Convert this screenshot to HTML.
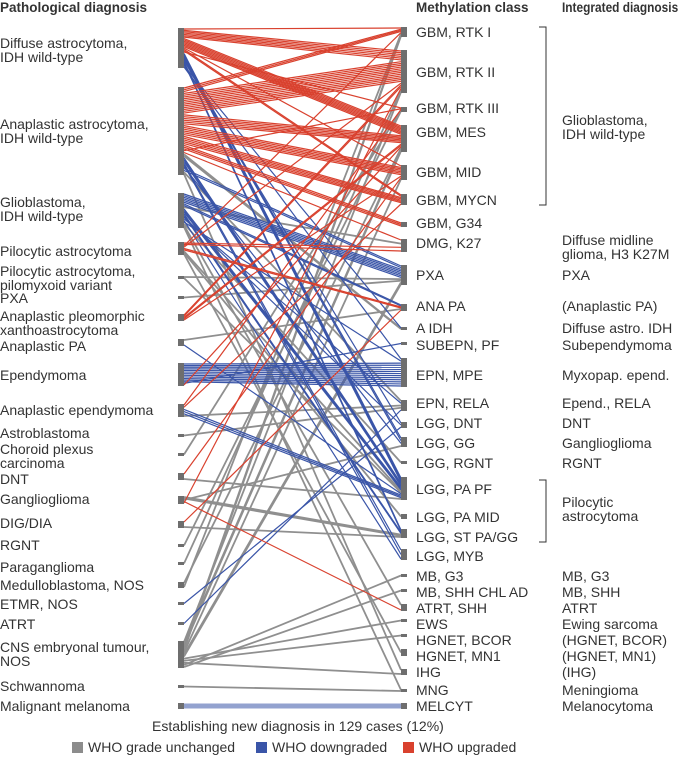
<!DOCTYPE html>
<html><head><meta charset="utf-8"><style>
body{margin:0;background:#fff;font-family:"Liberation Sans",Arial,sans-serif;color:#333;}
#wrap{position:relative;width:685px;height:758px;overflow:hidden;}
.t{position:absolute;font-size:14px;line-height:14px;white-space:nowrap;transform:translateY(-7px);}
.h{position:absolute;font-size:13.5px;font-weight:bold;top:0px;white-space:nowrap;}
.leg{position:absolute;top:739px;font-size:14px;white-space:nowrap;}
.sq{display:inline-block;width:11px;height:11px;vertical-align:-1px;margin-right:5px;}
</style></head><body>
<div id="wrap">
<div class="h" style="left:0">Pathological diagnosis</div>
<div class="h" style="left:416px">Methylation class</div>
<div class="h" style="left:562px;transform:scaleX(0.88);transform-origin:0 0">Integrated diagnosis</div>
<svg id="svg" width="685" height="758" style="position:absolute;left:0;top:0"></svg>
<div id="labels"></div>
<div style="position:absolute;left:152px;top:718px;font-size:14px;white-space:nowrap">Establishing new diagnosis in 129 cases (12%)</div>
<div class="leg" style="left:72px"><span class="sq" style="background:#8c8c8c"></span>WHO grade unchanged</div>
<div class="leg" style="left:256px"><span class="sq" style="background:#3a55a8"></span>WHO downgraded</div>
<div class="leg" style="left:403px"><span class="sq" style="background:#d9412e"></span>WHO upgraded</div>
</div>
<script>
const leftNames=[["Diffuse astrocytoma,","IDH wild-type"],["Anaplastic astrocytoma,","IDH wild-type"],["Glioblastoma,","IDH wild-type"],["Pilocytic astrocytoma"],["Pilocytic astrocytoma,","pilomyxoid variant"],["PXA"],["Anaplastic pleomorphic","xanthoastrocytoma"],["Anaplastic PA"],["Ependymoma"],["Anaplastic ependymoma"],["Astroblastoma"],["Choroid plexus","carcinoma"],["DNT"],["Ganglioglioma"],["DIG/DIA"],["RGNT"],["Paraganglioma"],["Medulloblastoma, NOS"],["ETMR, NOS"],["ATRT"],["CNS embryonal tumour,","NOS"],["Schwannoma"],["Malignant melanoma"]];
const leftLabelY=[50,131,209,251,278,298,323,346,375,410,433,456,479,499,523,545,567,585,604,624,654,686,706];
const leftTop=[28,87,193,242,276,296,314,339,363,404,434,453,473,496,521,544,562,582,602,622,641,685,703];
const leftBot=[68,175,228,255,279,299,321,346,386,417,437,456,480,504,528,547,565,588,605,625,668,688,709];
const rightNames=["GBM, RTK I","GBM, RTK II","GBM, RTK III","GBM, MES","GBM, MID","GBM, MYCN","GBM, G34","DMG, K27","PXA","ANA PA","A IDH","SUBEPN, PF","EPN, MPE","EPN, RELA","LGG, DNT","LGG, GG","LGG, RGNT","LGG, PA PF","LGG, PA MID","LGG, ST PA/GG","LGG, MYB","MB, G3","MB, SHH CHL AD","ATRT, SHH","EWS","HGNET, BCOR","HGNET, MN1","IHG","MNG","MELCYT"];
const rightLabelY=[32,72,108,132,172,200,223,243,275,306,328,345,375,403,423,443,463,489,517,537,556,576,592,608,624,640,656,672,690,706];
const rightTop=[27,50,107,125,165,194,222,239,265,304,327,342,358,400,422,437,461,477,514,529,549,574,589,604,619,634,649,669,689,703];
const rightBot=[37,93,112,152,180,205,227,252,285,311,330,345,387,411,428,447,464,500,519,538,560,577,592,611,622,637,656,675,692,709];
const integrated=[[["Glioblastoma,","IDH wild-type"],127],[["Diffuse midline","glioma, H3 K27M"],247],[["PXA"],275],[["(Anaplastic PA)"],306],[["Diffuse astro. IDH"],328],[["Subependymoma"],345],[["Myxopap. epend."],375],[["Epend., RELA"],403],[["DNT"],423],[["Ganglioglioma"],443],[["RGNT"],463],[["Pilocytic","astrocytoma"],509],[["MB, G3"],576],[["MB, SHH"],592],[["ATRT"],608],[["Ewing sarcoma"],624],[["(HGNET, BCOR)"],640],[["(HGNET, MN1)"],656],[["(IHG)"],672],[["Meningioma"],690],[["Melanocytoma"],706]];
const linkFrom=[0,0,0,0,0,0,0,0,0,0,0,0, 1,1,1,1,1,1,1,1,1,1,1,1,1,1,1, 2,2,2,2,2,2,2,2,2,2,2,2, 3,3,3,3,3,3,3, 4,4,5,6,6,6,7,7,8,8,8,9,9,9,9,10,11,12,12,13,13,13,13,14,14,15,16,17,17,18,19,20,20,20,20,20,20,20,20,20,20,21,22];
const linkTo=  [0,1,3,4,5,2,17,15,19,14,10,12, 0,1,3,4,5,6,2,7,10,17,20,15,8,13,27, 8,9,7,17,19,14,13,20,12,16,23,28, 7,0,1,9,17,18,26, 8,17,8,1,3,4,9,17,12,11,3,2,5,17,13,13,2,4,17,19,15,23,1,9,19,2,1,3,0,14,13,1,3,0,4,8,24,25,27,21,22,28,29];
const linkCount=[1,6,7,1,2,1,4,2,2,1,1,1, 3,12,6,6,5,3,1,1,2,3,2,1,2,1,1, 6,2,1,3,2,1,1,1,1,1,1,1, 2,1,1,2,1,1,1, 1,1,1,2,2,1,1,1,12,1,1,1,1,3,1,1,1,1,1,2,1,1,1,1,1,1,1,1,1,1,1,1,2,2,1,2,1,1,1,1,1,1,1,1];
const linkType=["r","r","r","r","r","r","b","b","b","b","b","b", "r","r","r","r","r","r","r","r","g","b","b","b","b","g","g", "b","b","g","b","b","b","b","b","b","g","g","g", "r","r","r","r","g","g","g", "g","g","g","r","r","r","g","b","b","b","r","r","r","b","g","g","g","r","g","g","g","r","r","r","g","g","g","g","g","b","b","g","g","g","g","g","g","g","g","g","g","g","m"];

const svg=document.getElementById('svg');const NS='http://www.w3.org/2000/svg';
const colors={g:'#8f8f8f',b:'#3a55a8',r:'#d9412e',m:'#3a55a8'};
const LX=184,RX=401;
function total(key){const t={};linkFrom.forEach((f,i)=>{const k=key==='f'?f:linkTo[i];t[k]=(t[k]||0)+linkCount[i];});return t;}
const lt=total('f'),rt=total('t');const lu={},ru={};
function slotY(top,bot,n,idx){if(n<=1)return (top+bot)/2;return top+1+(bot-top-2)*idx/(n-1);}
const lines=[];
linkFrom.forEach((_,i)=>{
  for(let k=0;k<linkCount[i];k++){
    const f=linkFrom[i],t=linkTo[i];
    const a=lu[f]||0;lu[f]=a+1;const b=ru[t]||0;ru[t]=b+1;
    lines.push({i,y1:slotY(leftTop[f],leftBot[f],lt[f],a),y2:slotY(rightTop[t],rightBot[t],rt[t],b)});
  }
});
['g','b','r','m'].forEach(ty=>{lines.filter(l=>linkType[l.i]===ty).forEach(l=>{
  const p=document.createElementNS(NS,'line');
  p.setAttribute('x1',LX);p.setAttribute('x2',RX);p.setAttribute('y1',l.y1);p.setAttribute('y2',l.y2);
  p.setAttribute('stroke',colors[ty]);p.setAttribute('stroke-width',ty==='g'?1.8:(ty==='m'?5:1.2));
  if(ty==='m')p.setAttribute('stroke-opacity','0.55');
  
  
  svg.appendChild(p);});});
leftTop.forEach((t,i)=>{const r=document.createElementNS(NS,'rect');
  r.setAttribute('x',178);r.setAttribute('y',t);r.setAttribute('width',6);r.setAttribute('height',leftBot[i]-t);r.setAttribute('fill','#6e6e6e');
  
  
  svg.appendChild(r);});
rightTop.forEach((t,i)=>{const r=document.createElementNS(NS,'rect');
  r.setAttribute('x',401);r.setAttribute('y',t);r.setAttribute('width',6);r.setAttribute('height',rightBot[i]-t);r.setAttribute('fill','#6e6e6e');
  
  
  svg.appendChild(r);});
[[27,205],[480,542]].forEach(([a,b])=>{const p=document.createElementNS(NS,'path');
  p.setAttribute('d',`M539 ${a}H546V${b}H539`);p.setAttribute('stroke','#333');p.setAttribute('fill','none');p.setAttribute('stroke-width','1');
  
  
  svg.appendChild(p);});
const lab=document.getElementById('labels');
function addText(lines,x,cy,name){lines.forEach((s,j)=>{const d=document.createElement('div');d.className='t';
  d.style.left=x+'px';d.style.top=(cy-(lines.length-1)*7+j*14)+'px';d.textContent=s;
  
  
  lab.appendChild(d);});}
leftNames.forEach((n,i)=>addText(n,0,leftLabelY[i],'pathological-label'));
rightNames.forEach((n,i)=>addText([n],416,rightLabelY[i],'methylation-label'));
integrated.forEach(([n,y])=>addText(n,562,y,'integrated-label'));
</script>
</body></html>
